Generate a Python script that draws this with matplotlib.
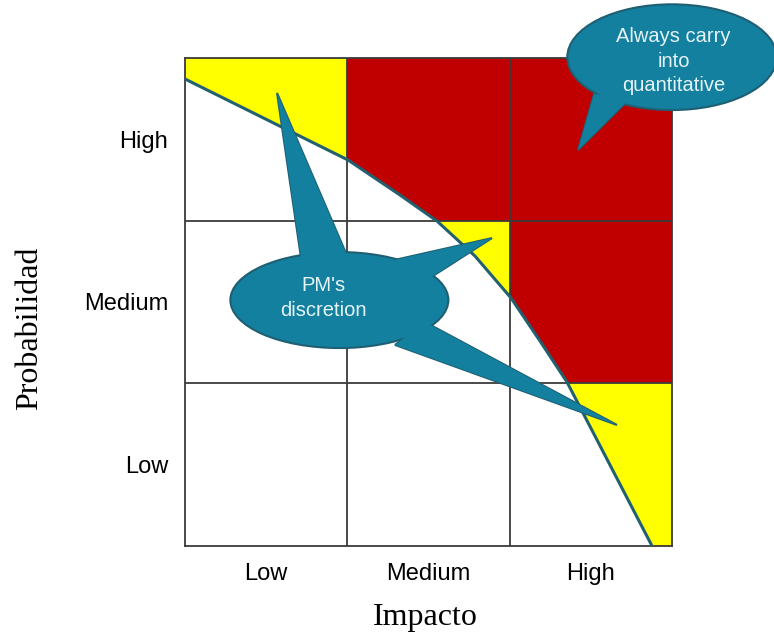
import matplotlib
matplotlib.use("Agg")
import matplotlib.pyplot as plt
from matplotlib.patches import Ellipse, Polygon, Rectangle
import numpy as np

# ---- data ----
levels = ["Low", "Medium", "High"]
# cell colour codes: rows = probability (Low..High), cols = impact (Low..High)
# 0 = white, 1 = yellow (discretion), 2 = red (always carry)
cell_codes = [
    [0, 0, 1],   # Low probability
    [0, 1, 2],   # Medium probability
    [1, 2, 2],   # High probability
]
code_colors = {0: "#FFFFFF", 1: "#FFFF00", 2: "#C00000"}

# threshold curve (impact, probability) in cell units
curve_x = [0.000, 1.004, 1.324, 1.552, 1.786, 2.008, 2.187, 2.353, 2.618, 2.877]
curve_y = [2.871, 2.373, 2.158, 1.998, 1.783, 1.525, 1.260, 1.008, 0.498, 0.000]

# callout geometry (cell units)
pm_text = "PM's\ndiscretion"
pm_center = (0.951, 1.512)
pm_size = (1.343, 0.59)
pm_text_pos = (0.85, 1.525)
pm_spikes = [
    [(0.567, 2.785), (0.721, 1.727), (1.023, 1.727)],
    [(1.891, 1.893), (1.263, 1.752), (1.460, 1.617)],
    [(2.661, 0.744), (1.478, 1.377), (1.294, 1.236)],
]
top_text = "Always carry\ninto\nquantitative"
top_center = (3.00, 3.005)
top_size = (1.29, 0.65)
top_text_pos = (3.01, 2.98)
top_spikes = [
    [(2.421, 2.434), (2.52, 2.78), (2.74, 2.75)],
]

bubble_fill = "#1380A0"
bubble_edge = "#1F5F72"
curve_color = "#23606F"

W, H = 774, 636
fig = plt.figure(figsize=(W / 100, H / 100), dpi=100)
ax = fig.add_axes([185 / W, (H - 546) / H, (672 - 185) / W, (546 - 58) / H])
ax.set_xlim(0, 3)
ax.set_ylim(0, 3)

# cells
for r, row in enumerate(cell_codes):
    for c, code in enumerate(row):
        ax.add_patch(Rectangle((c, r), 1, 1, facecolor=code_colors[code],
                               edgecolor="none", zorder=1))

# white region below the curve
cx = np.array(curve_x)
cy = np.array(curve_y)
ax.fill_between(cx, 0, cy, color="white", zorder=2, linewidth=0)

# grid lines
for v in [1, 2]:
    ax.axvline(v, color="#3a3a3a", lw=1.3, zorder=3)
    ax.axhline(v, color="#3a3a3a", lw=1.3, zorder=3)
for s in ax.spines.values():
    s.set_color("#3a3a3a")
    s.set_linewidth(1.3)
    s.set_zorder(3)

# curve
ax.plot(cx, cy, color=curve_color, lw=2.2, zorder=4, solid_capstyle="butt",
        solid_joinstyle="round")


def bubble(center, size, spikes, text, text_pos, fs):
    for sp in spikes:
        ax.add_patch(Polygon(sp, closed=True, facecolor=bubble_fill,
                             edgecolor=bubble_edge, lw=1.5, zorder=5,
                             clip_on=False, joinstyle="miter"))
    ax.add_patch(Ellipse(center, size[0], size[1], facecolor=bubble_fill,
                         edgecolor=bubble_edge, lw=1.5, zorder=6, clip_on=False))
    for sp in spikes:
        ax.add_patch(Polygon(sp, closed=True, facecolor=bubble_fill,
                             edgecolor="none", zorder=7, clip_on=False))
    ax.text(text_pos[0], text_pos[1], text, ha="center", va="center",
            color="#E6F3F7", fontsize=fs, family="Liberation Sans",
            zorder=8, linespacing=1.38)


bubble(pm_center, pm_size, pm_spikes, pm_text, pm_text_pos, 14.5)
bubble(top_center, top_size, top_spikes, top_text, top_text_pos, 14.5)

# ticks
centers = [0.5, 1.5, 2.5]
ax.set_xticks(centers)
ax.set_xticklabels(levels)
ax.set_yticks(centers)
ax.set_yticklabels(levels)
ax.tick_params(length=0, labelsize=17, pad=12)
for lab in ax.get_xticklabels() + ax.get_yticklabels():
    lab.set_family("Liberation Sans")

fig.text(425 / W, 1 - 618 / H, "Impacto", ha="center", va="center",
         fontsize=23, family="Liberation Serif")
fig.text(30 / W, 1 - 328 / H, "Probabilidad", ha="center", va="center",
         rotation=90, fontsize=23, family="Liberation Serif")

fig.savefig("out.png", dpi=100)
